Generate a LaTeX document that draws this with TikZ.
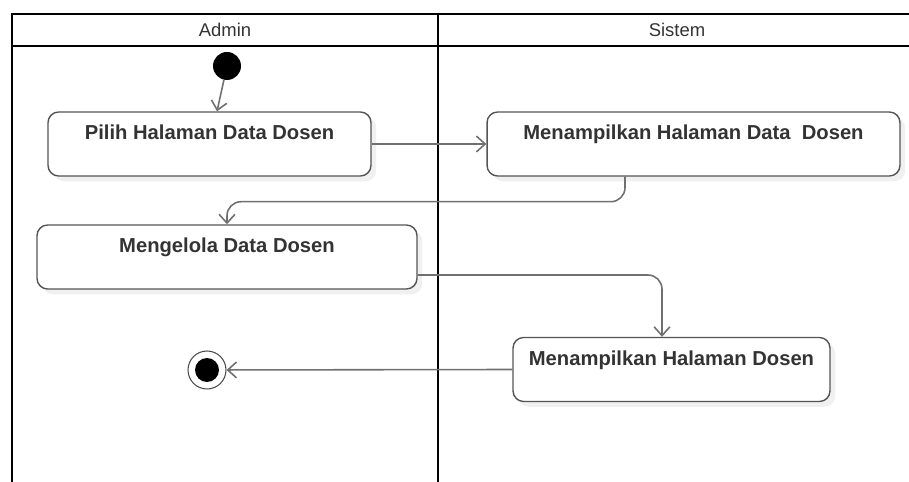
\documentclass[tikz,border=0pt]{standalone}
\usepackage{fontspec}
\setmainfont{Liberation Sans}
\usepackage{tikz}
\usetikzlibrary{arrows.meta, positioning, calc, shadows}
\definecolor{boxline}{RGB}{85, 85, 85}
\definecolor{flowline}{RGB}{112, 112, 112}
\definecolor{labeltext}{RGB}{51, 51, 51}

\begin{document}
\begin{tikzpicture}[
  x=0.02cm, y=-0.02cm,
  lane/.style       = {line width=1.1pt, color=black},
  lanetitle/.style  = {font=\fontsize{10.5}{12}\selectfont, text=labeltext},
  actbox/.style     = {rectangle, rounded corners=6pt, draw=boxline, fill=white,
                        line width=0.8pt, minimum width=#1, align=center,
                        inner xsep=4pt, inner ysep=0.2cm,
                        text height=0.36cm, text depth=0.52cm,
                        font=\bfseries\fontsize{11.5}{13}\selectfont, text=labeltext,
                        drop shadow={opacity=0.12, shadow xshift=3pt, shadow yshift=-3pt}},
  initial/.style    = {circle, fill=black, minimum size=0.56cm, inner sep=0pt},
  final/.style      = {circle, draw=black!70, line width=0.6pt, fill=white,
                        minimum size=0.76cm, inner sep=0pt,
                        path picture={\fill[black] (path picture bounding box.center) circle (0.24cm);}},
  flow/.style       = {-{Straight Barb[length=5pt, width=9pt]}, line width=0.9pt, color=flowline},
]

\useasboundingbox (0,0) rectangle (909,482);

%% Swimlanes
\draw[lane] (909,14) -- (12,14) -- (12,482);
\draw[lane] (12,46) -- (909,46);
\draw[lane] (438,14) -- (438,482);
\node[lanetitle] (laneA) at (225,30) {Admin};
\node[lanetitle] (laneS) at (677,30) {Sistem};

%% Activities
\node[initial] (init) at (227,66) {};
\node[actbox=6.46cm] (p1) at (209.5,144) {Pilih Halaman Data Dosen};
\node[actbox=8.26cm] (p2) at (693.5,144) {Menampilkan Halaman Data\ \ Dosen};
\node[actbox=7.60cm] (p3) at (227,257) {Mengelola Data Dosen};
\node[actbox=6.34cm] (p4) at (671.5,369.5) {Menampilkan Halaman Dosen};
\node[final] (fin) at (207,370) {};

%% Control flow
\draw[flow] (init) -- ($(p1.north)+(7.5,0)$);
\draw[flow] (p1.east) -- (p2.west);
\draw[flow, rounded corners=8pt] ($(p2.south)+(-68.5,0)$) -- ++(0,25) -| (p3.north);
\draw[flow, rounded corners=8pt] ($(p3.east)+(0,18)$) -| ($(p4.north)+(-9.5,0)$);
\draw[flow] (p4.west) -- (fin);

\end{tikzpicture}
\end{document}
